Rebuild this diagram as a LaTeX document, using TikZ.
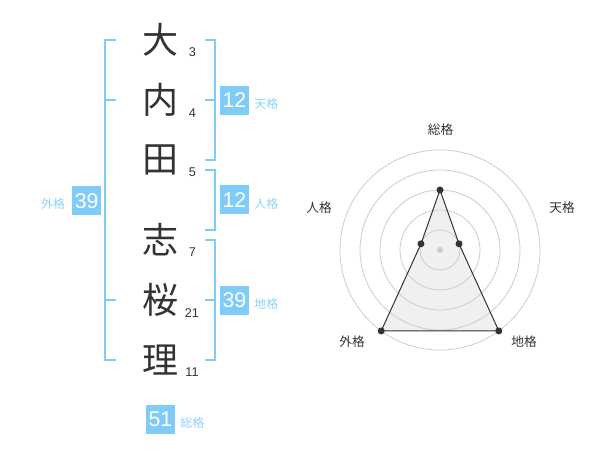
\documentclass[tikz,border=0pt]{standalone}
\usepackage{fontspec}
\setmainfont{Liberation Sans}
\newfontfamily\jpfont{Noto Sans CJK JP}
\usepackage{tikz}
\usetikzlibrary{calc,positioning}
\definecolor{colorbox}{HTML}{80CCF8}
\definecolor{colorlbl}{HTML}{8ED2F7}
\definecolor{colorink}{HTML}{333333}
\definecolor{colorgrid}{HTML}{CCCCCC}
\definecolor{colorarea}{HTML}{F0F0F0}
\tikzset{
  kanji/.style={colorink, inner sep=0pt, font=\jpfont\fontsize{27}{27}\selectfont},
  strokes/.style={colorink, inner sep=0pt, font=\fontsize{9.5}{9.5}\selectfont},
  scorebox/.style={fill=colorbox, text=white, minimum size=21.75pt, inner sep=0pt, font=\fontsize{16}{16}\selectfont},
  scorelbl/.style={colorlbl, inner sep=0pt, anchor=west, font=\jpfont\fontsize{9}{9}\selectfont},
  axislbl/.style={colorink, inner sep=0pt, font=\jpfont\fontsize{9.5}{9.5}\selectfont},
  bracket/.style={colorbox, line width=1.5pt},
  ring/.style={colorgrid, line width=0.6pt},
  edgearea/.style={colorink, line width=0.75pt},
  vertex/.style={circle, fill=colorink, minimum size=5.25pt, inner sep=0pt}
}

\begin{document}
\begin{tikzpicture}[x=0.75pt, y=-0.75pt]
\useasboundingbox (0,0) rectangle (600,470);

\node[kanji](k1) at (160,40) {大};
\node[kanji](k2) at (160,100) {内};
\node[kanji](k3) at (160,160) {田};
\node[kanji](k4) at (160,240) {志};
\node[kanji](k5) at (160,300) {桜};
\node[kanji](k6) at (160,360) {理};

\node[strokes](s1) at (192.5,52.5) {3};
\node[strokes](s2) at (192.5,113) {4};
\node[strokes](s3) at (192.5,172.5) {5};
\node[strokes](s4) at (192.5,252.5) {7};
\node[strokes](s5) at (192,313) {21};
\node[strokes](s6) at (192,372.5) {11};

\draw[bracket] (116,40) -- (105,40) -- (105,360) -- (116,360);
\draw[bracket] (105,100) -- (116,100);
\draw[bracket] (105,300) -- (116,300);
\draw[bracket] (205,40) -- (214.5,40) -- (214.5,160) -- (205,160);
\draw[bracket] (205,100) -- (214.5,100);
\draw[bracket] (205,170) -- (214.5,170) -- (214.5,230) -- (205,230);
\draw[bracket] (205,240) -- (214.5,240) -- (214.5,360) -- (205,360);
\draw[bracket] (205,300) -- (214.5,300);

\node[scorebox](gai) at (86.7,201) {39};
\node[colorlbl, inner sep=0pt, anchor=east, font=\jpfont\fontsize{9}{9}\selectfont](gail) at (65.5,204) {外格};
\node[scorebox](ten) at (234.5,100.5) {12};
\node[scorelbl](tenl) at (254,104) {天格};
\node[scorebox](jin) at (234.5,200) {12};
\node[scorelbl](jinl) at (254,204) {人格};
\node[scorebox](chi) at (234.5,300.5) {39};
\node[scorelbl](chil) at (254,304) {地格};
\node[scorebox](sou) at (160.5,419.5) {51};
\node[scorelbl](soul) at (180,423) {総格};

\coordinate (c) at (440,250);
\coordinate (p1) at ($(c)+(-90:60)$);
\coordinate (p2) at ($(c)+(-18:20)$);
\coordinate (p3) at ($(c)+(54:100)$);
\coordinate (p4) at ($(c)+(126:100)$);
\coordinate (p5) at ($(c)+(198:20)$);
\fill[colorarea] (p1) -- (p2) -- (p3) -- (p4) -- (p5) -- cycle;
\foreach \r in {20,40,60,80,100}
  \draw[ring] (c) circle[radius=\r];
\fill[colorgrid] (c) circle[radius=3];
\draw[edgearea] (p1) -- (p2) -- (p3) -- (p4) -- (p5) -- cycle;
\foreach \p in {p1,p2,p3,p4,p5}
  \node[vertex] at (\p) {};

\node[axislbl](a1) at (440.5,130) {総格};
\node[axislbl](a2) at (562,208) {天格};
\node[axislbl](a3) at (524,342) {地格};
\node[axislbl](a4) at (352,342) {外格};
\node[axislbl](a5) at (319,208) {人格};
\end{tikzpicture}
\end{document}
